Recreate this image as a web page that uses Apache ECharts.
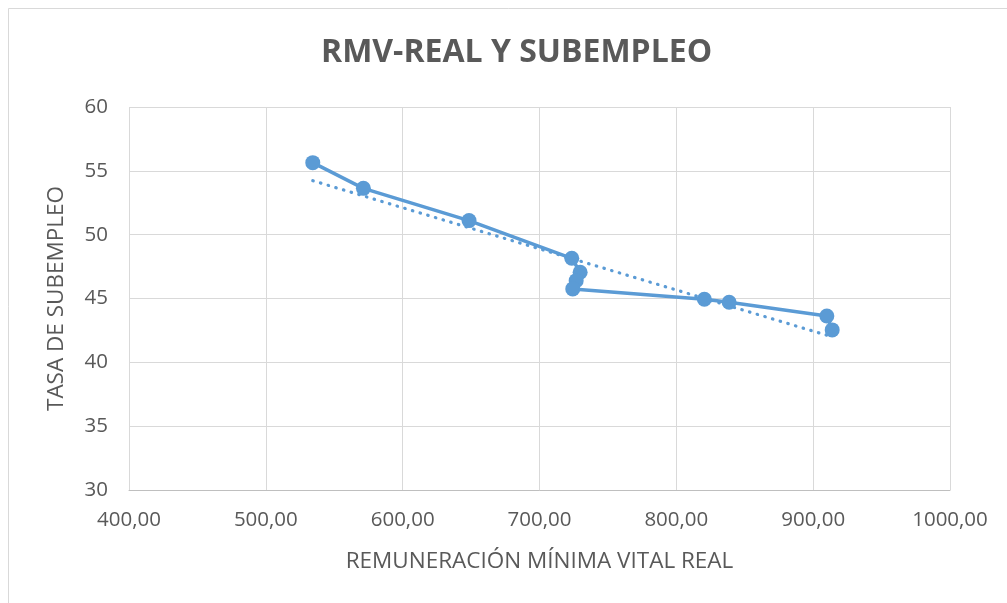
<!DOCTYPE html>
<html>
<head>
<meta charset="utf-8">
<script src="https://cdn.jsdelivr.net/npm/echarts@6/dist/echarts.min.js"></script>
<style>
  html, body { margin: 0; padding: 0; background: #fff; }
  #chart { width: 1007px; height: 603px; }
</style>
</head>
<body>
<div id="chart"></div>
<script>
// Remuneración mínima vital real vs tasa de subempleo
var rmvReal = [534.3, 571.3, 648.5, 723.6, 729.7, 726.8, 724.3, 820.5, 838.6, 910.0, 913.9];
var subempleo = [55.64, 53.63, 51.10, 48.15, 47.06, 46.40, 45.75, 44.94, 44.71, 43.63, 42.54];
var xTicks = [400, 500, 600, 700, 800, 900, 1000];
var yTicks = [30, 35, 40, 45, 50, 55, 60];

var azul = '#5b9bd5';
var gris = '#595959';
var fuente = 'Open Sans';

// linea de tendencia lineal (minimos cuadrados), como en Excel
var n = rmvReal.length, mx = 0, my = 0;
for (var i = 0; i < n; i++) { mx += rmvReal[i]; my += subempleo[i]; }
mx /= n; my /= n;
var sxy = 0, sxx = 0;
for (var j = 0; j < n; j++) {
  sxy += (rmvReal[j] - mx) * (subempleo[j] - my);
  sxx += (rmvReal[j] - mx) * (rmvReal[j] - mx);
}
var pend = sxy / sxx;
var xMin = Math.min.apply(null, rmvReal), xMax = Math.max.apply(null, rmvReal);
var tendencia = [[xMin, my + pend * (xMin - mx)], [xMax, my + pend * (xMax - mx)]];

var puntos = rmvReal.map(function (x, k) { return [x, subempleo[k]]; });

var chart = echarts.init(document.getElementById('chart'));
chart.setOption({
  animation: false,
  backgroundColor: '#fff',
  graphic: [{
    type: 'rect',
    shape: { x: 8.5, y: 8.5, width: 1100, height: 700 },
    style: { fill: 'none', stroke: '#d9d9d9', lineWidth: 1 },
    silent: true
  }],
  title: {
    text: 'RMV-REAL Y SUBEMPLEO',
    left: 316,
    top: 32,
    textStyle: { fontFamily: fuente, fontSize: 32, fontWeight: 'bold', color: gris }
  },
  grid: { left: 129, right: 57, top: 107, bottom: 113, containLabel: false },
  xAxis: {
    type: 'value',
    min: xTicks[0],
    max: xTicks[xTicks.length - 1],
    interval: 100,
    name: 'REMUNERACIÓN MÍNIMA VITAL REAL',
    nameLocation: 'middle',
    nameGap: 60,
    nameTextStyle: { fontFamily: fuente, fontSize: 22.5, color: gris },
    axisLine: { show: true, onZero: false, lineStyle: { color: '#bfbfbf', width: 1 } },
    axisTick: { show: false },
    axisLabel: {
      fontFamily: fuente, fontSize: 20.5, color: gris, margin: 20,
      formatter: function (v) { return v.toFixed(2).replace('.', ','); }
    },
    splitLine: { show: true, lineStyle: { color: '#d9d9d9', width: 1 } }
  },
  yAxis: {
    type: 'value',
    min: yTicks[0],
    max: yTicks[yTicks.length - 1],
    interval: 5,
    name: 'TASA DE SUBEMPLEO',
    nameLocation: 'middle',
    nameGap: 61,
    nameTextStyle: { fontFamily: fuente, fontSize: 22.5, color: gris },
    axisLine: { show: false },
    axisTick: { show: false },
    axisLabel: { fontFamily: fuente, fontSize: 20.5, color: gris, margin: 21 },
    splitLine: { show: true, lineStyle: { color: '#d9d9d9', width: 1 } }
  },
  series: [
    {
      name: 'Tendencia',
      type: 'line',
      data: tendencia,
      symbol: 'none',
      lineStyle: { color: azul, width: 3.2, type: [0.5, 7.5], cap: 'round' },
      z: 2
    },
    {
      name: 'Subempleo',
      type: 'line',
      data: puntos,
      symbol: 'circle',
      symbolSize: 15,
      itemStyle: { color: azul },
      lineStyle: { color: azul, width: 3.5 },
      z: 3
    }
  ]
});
</script>
</body>
</html>
